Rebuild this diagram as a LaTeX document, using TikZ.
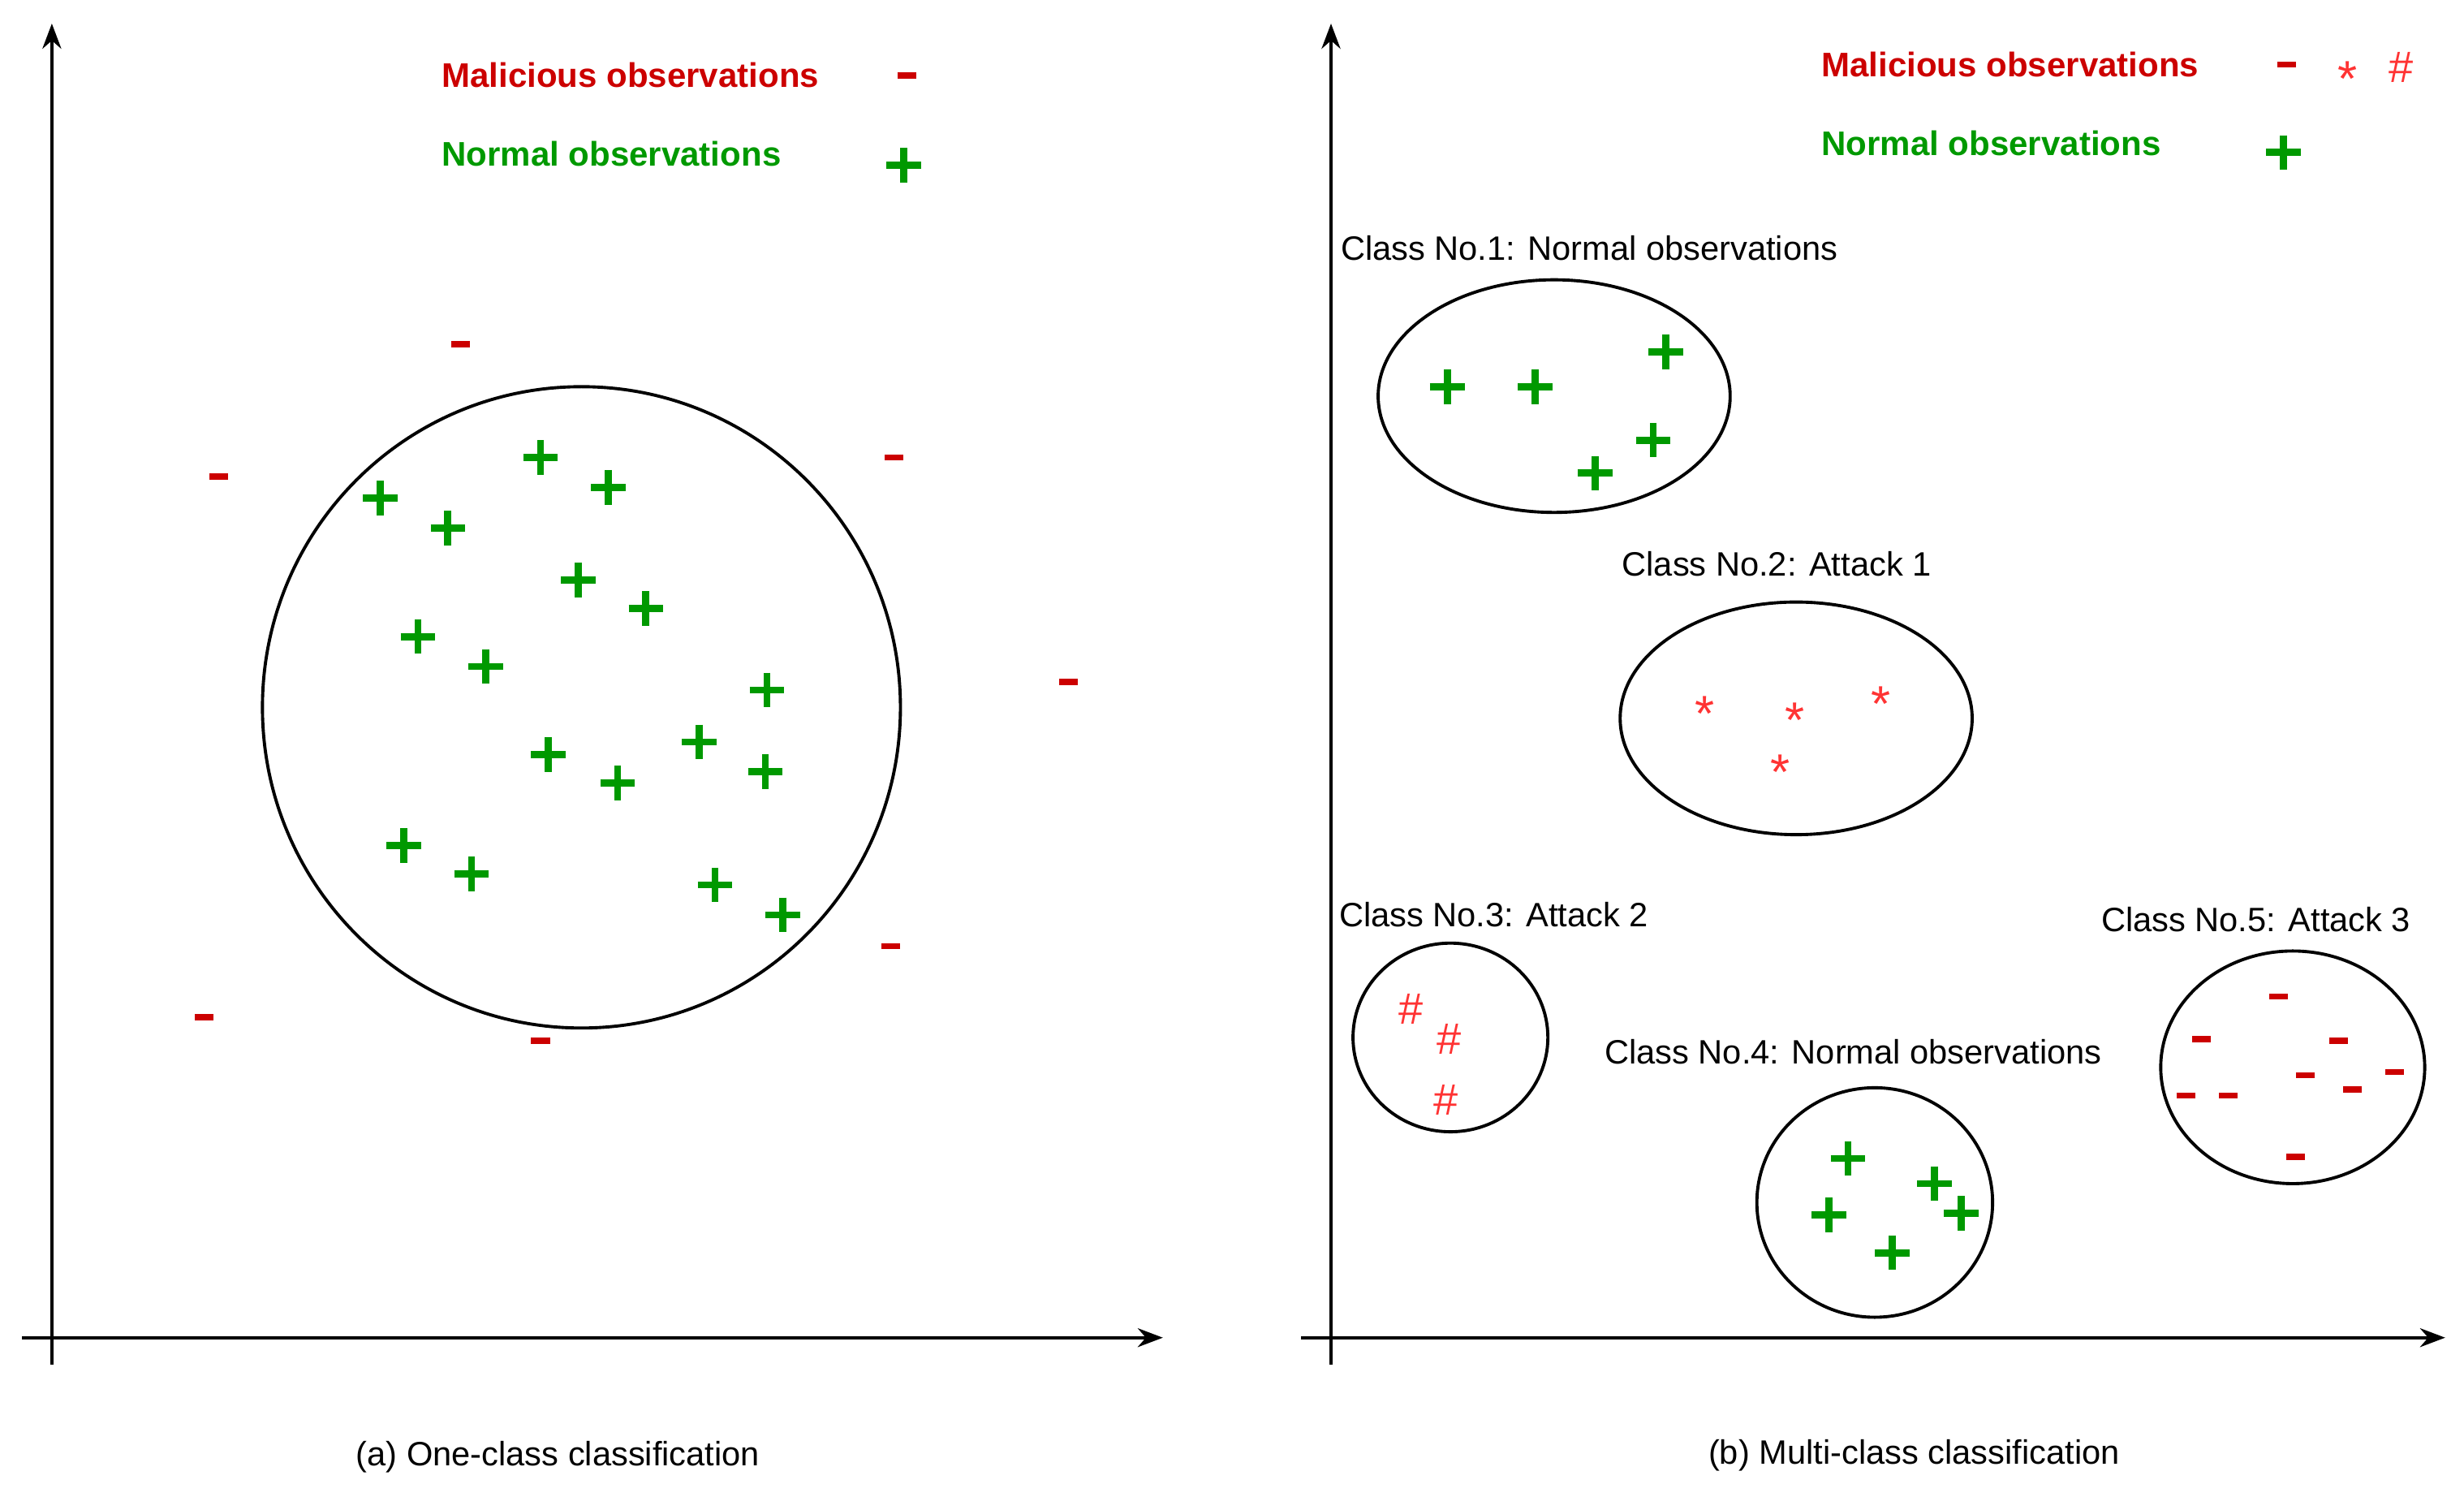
\documentclass[tikz,border=0pt]{standalone}
\usepackage{fontspec}
\setmainfont{Liberation Sans}
\usetikzlibrary{arrows.meta}
\definecolor{gr}{HTML}{009900}
\definecolor{rd}{HTML}{CC0000}
\definecolor{lr}{HTML}{FF3333}
\begin{document}
\begin{tikzpicture}[x=1pt,y=-1pt,
  ax/.style={line width=2pt,-{Stealth[length=16pt,width=12pt]}},
  bd/.style={line width=2pt},
  lab/.style={anchor=west,inner sep=0pt,font=\fontsize{21.5}{24}\selectfont},
  leg/.style={anchor=west,inner sep=0pt,font=\fontsize{21.7}{24}\selectfont\bfseries},
  sym/.style={inner sep=0pt,text=lr,font=\fontsize{32}{34}\selectfont},
  hsh/.style={inner sep=0pt,text=lr,font=\fontsize{28}{30}\selectfont}]
\useasboundingbox (0,0) rectangle (1568,952);
\newcommand{\pl}[2]{\draw[gr,line width=4.5pt] (#1-11,#2) -- (#1+11,#2) (#1,#2-11) -- (#1,#2+11);}
\newcommand{\mi}[2]{\draw[rd,line width=4pt] (#1-6,#2) -- (#1+6,#2);}
% axes
\coordinate (a1) at (33,868); \coordinate (a2) at (33,15);
\coordinate (a3) at (14,851); \coordinate (a4) at (740,851);
\coordinate (b1) at (847,868); \coordinate (b2) at (847,15);
\coordinate (b3) at (828,851); \coordinate (b4) at (1556,851);
\draw[ax] (a1) -- (a2); \draw[ax] (a3) -- (a4);
\draw[ax] (b1) -- (b2); \draw[ax] (b3) -- (b4);
% left
\draw[bd] (370,450) ellipse [x radius=203,y radius=204];
\foreach \x/\y in {242/317,285/336,344/291,387/310,368/369,411/387,266/405,309/424,488/439,349/480,393/498,445/472,487/491,257/538,300/556,455/563,498/582,575/105} {\pl{\x}{\y}}
\foreach \x/\y in {293/219,139/303,569/291,680/434,567/602,130/647,344/662,577/48} {\mi{\x}{\y}}
\node[leg,text=rd] (l1) at (281,48) {Malicious observations};
\node[leg,text=gr] (l2) at (281,98) {Normal observations};
\node[inner sep=0pt,font=\fontsize{21.5}{24}\selectfont] (ca) at (355,927) {(a) One-class classification};
% right
\node[leg,text=rd] (r1) at (1159,41) {Malicious observations};
\node[leg,text=gr] (r2) at (1159,91) {Normal observations};
\mi{1455}{41}
\node[sym] (s0) at (1494,50) {*};
\node[hsh] (h0) at (1528,43) {\#};
\pl{1453}{97}
\node[inner sep=0pt,font=\fontsize{21.5}{24}\selectfont] (cb) at (1218,926) {(b) Multi-class classification};
% class 1
\node[lab] (c1) at (853,158) {Class No.1: Normal observations};
\draw[bd] (989,252) ellipse [x radius=112,y radius=74];
\foreach \x/\y in {921/246,977/246,1060/224,1052/280,1015/301} {\pl{\x}{\y}}
% class 2
\node[lab] (c2) at (1032,359) {Class No.2: Attack 1};
\draw[bd] (1143,457) ellipse [x radius=112,y radius=74];
\foreach \x/\y in {1085/454,1142/458,1197/448,1133/491} {\node[sym] at (\x,\y) {*};}
% class 3
\node[lab] (c3) at (852,582) {Class No.3: Attack 2};
\draw[bd] (923,660) ellipse [x radius=62,y radius=60];
\foreach \x/\y in {898/642,922/661,920/700} {\node[hsh] at (\x,\y) {\#};}
% class 4
\node[lab] (c4) at (1021,669) {Class No.4: Normal observations};
\draw[bd] (1193,765) ellipse [x radius=75,y radius=73];
\foreach \x/\y in {1176/737,1231/753,1248/772,1164/773,1204/797} {\pl{\x}{\y}}
% class 5
\node[lab] (c5) at (1337,585) {Class No.5: Attack 3};
\draw[bd] (1459,679) ellipse [x radius=84,y radius=74];
\foreach \x/\y in {1450/634,1401/661,1488/662,1467/684,1524/682,1497/693,1391/697,1418/697,1461/736} {\mi{\x}{\y}}
\end{tikzpicture}
\end{document}
